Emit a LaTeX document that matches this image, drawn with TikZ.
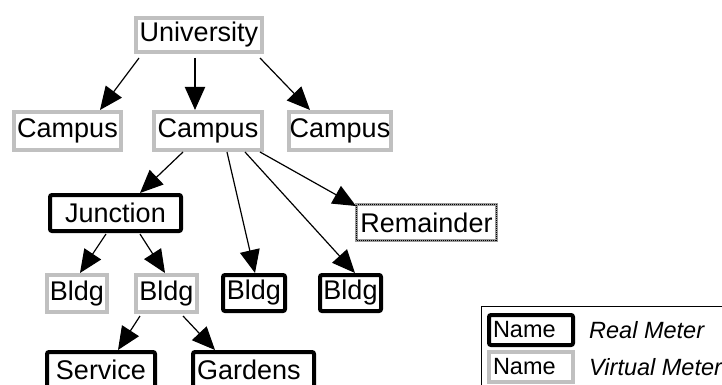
\documentclass[tikz,border=0pt]{standalone}
\usepackage{fontspec}
\setmainfont{Liberation Sans}
\usetikzlibrary{arrows.meta}
\definecolor{vgray}{HTML}{C0C0C0}
\tikzset{
  lbl/.style={font=\fontsize{27}{31}\selectfont, inner sep=0pt, align=center},
  virt/.style={lbl, draw=vgray, line width=4pt},
  real/.style={lbl, draw=black, line width=4pt, rounded corners=2pt},
  remn/.style={lbl, draw=vgray!80!black, line width=3pt,
     postaction={draw=black, line width=1pt, dash pattern=on 1pt off 1pt}},
  arr/.style={-{Triangle[length=23pt,width=20pt]}, line width=1.2pt},
  arrb/.style={-{Triangle[length=23pt,width=20pt]}, line width=2pt},
}
\begin{document}
\begin{tikzpicture}[x=1pt,y=-1pt]
\useasboundingbox (0,0) rectangle (722,385);
\node[virt, minimum width=126pt, minimum height=34pt] (univ) at (199,35) {University};
\node[virt, minimum width=107pt, minimum height=38pt] (campl) at (67.5,131) {Campus};
\node[virt, minimum width=108pt, minimum height=38pt] (campm) at (208,131) {Campus};
\node[virt, minimum width=102pt, minimum height=38pt] (campr) at (340,131) {Campus};
\node[real, minimum width=131pt, minimum height=36pt] (junc) at (115.5,213) {Junction};
\node[remn, minimum width=140pt, minimum height=36pt] (rem) at (426.5,222.5) {Remainder};
\node[virt, minimum width=60pt, minimum height=37pt] (b1) at (77,293.5) {Bldg};
\node[virt, minimum width=61pt, minimum height=37pt] (b2) at (166.5,293.5) {Bldg};
\node[real, minimum width=62pt, minimum height=36pt] (b3) at (254,293) {Bldg};
\node[real, minimum width=61pt, minimum height=36pt] (b4) at (350.5,293) {Bldg};
\node[real, minimum width=108pt, minimum height=36pt] (serv) at (101,370) {Service};
\node[real, minimum width=121pt, minimum height=36pt, text width=117pt, align=left] (gard) at (253.5,370) {\hspace*{2pt}Gardens};
% legend
\draw[line width=1pt] (481,306) rectangle (740,400);
\node[real, minimum width=84pt, minimum height=30pt, text width=80pt, align=left, font=\fontsize{23.5}{27}\selectfont] (lr) at (531,330) {\hspace*{2pt}Name};
\node[virt, minimum width=84pt, minimum height=30pt, text width=80pt, align=left, font=\fontsize{23.5}{27}\selectfont] (lv) at (531,367) {\hspace*{2pt}Name};
\node[anchor=west, inner sep=0pt, font=\fontsize{23.5}{27}\selectfont\itshape] (tr) at (589,330) {Real Meter};
\node[anchor=west, inner sep=0pt, font=\fontsize{23.5}{27}\selectfont\itshape] (tv) at (589,367) {Virtual Meter};
% connectors
\draw[arr] ([shift={(-60,4)}]univ.south) -- ([xshift=32.5pt]campl.north);
\draw[arrb] ([shift={(-4,4)}]univ.south) -- ([xshift=-13pt]campm.north);
\draw[arr] ([shift={(61,4)}]univ.south) -- ([xshift=-30pt]campr.north);
\draw[arr] ([shift={(-25,0)}]campm.south) -- ([xshift=24.5pt]junc.north);
\draw[arr] ([shift={(19,0)}]campm.south) -- ([xshift=1pt]b3.north);
\draw[arr] ([shift={(37,0)}]campm.south) -- ([xshift=4.5pt]b4.north);
\draw[arr] ([shift={(52,0)}]campm.south) -- ([shift={(1,3)}]rem.north west);
\draw[arr] ([shift={(-9.5,1)}]junc.south) -- ([xshift=3pt]b1.north);
\draw[arr] ([shift={(24.5,1)}]junc.south) -- ([xshift=-1.5pt]b2.north);
\draw[arr] ([shift={(-26.5,2)}]b2.south) -- ([xshift=17pt]serv.north);
\draw[arr] ([shift={(16.5,2)}]b2.south) -- ([xshift=-38.5pt]gard.north);
\end{tikzpicture}
\end{document}
